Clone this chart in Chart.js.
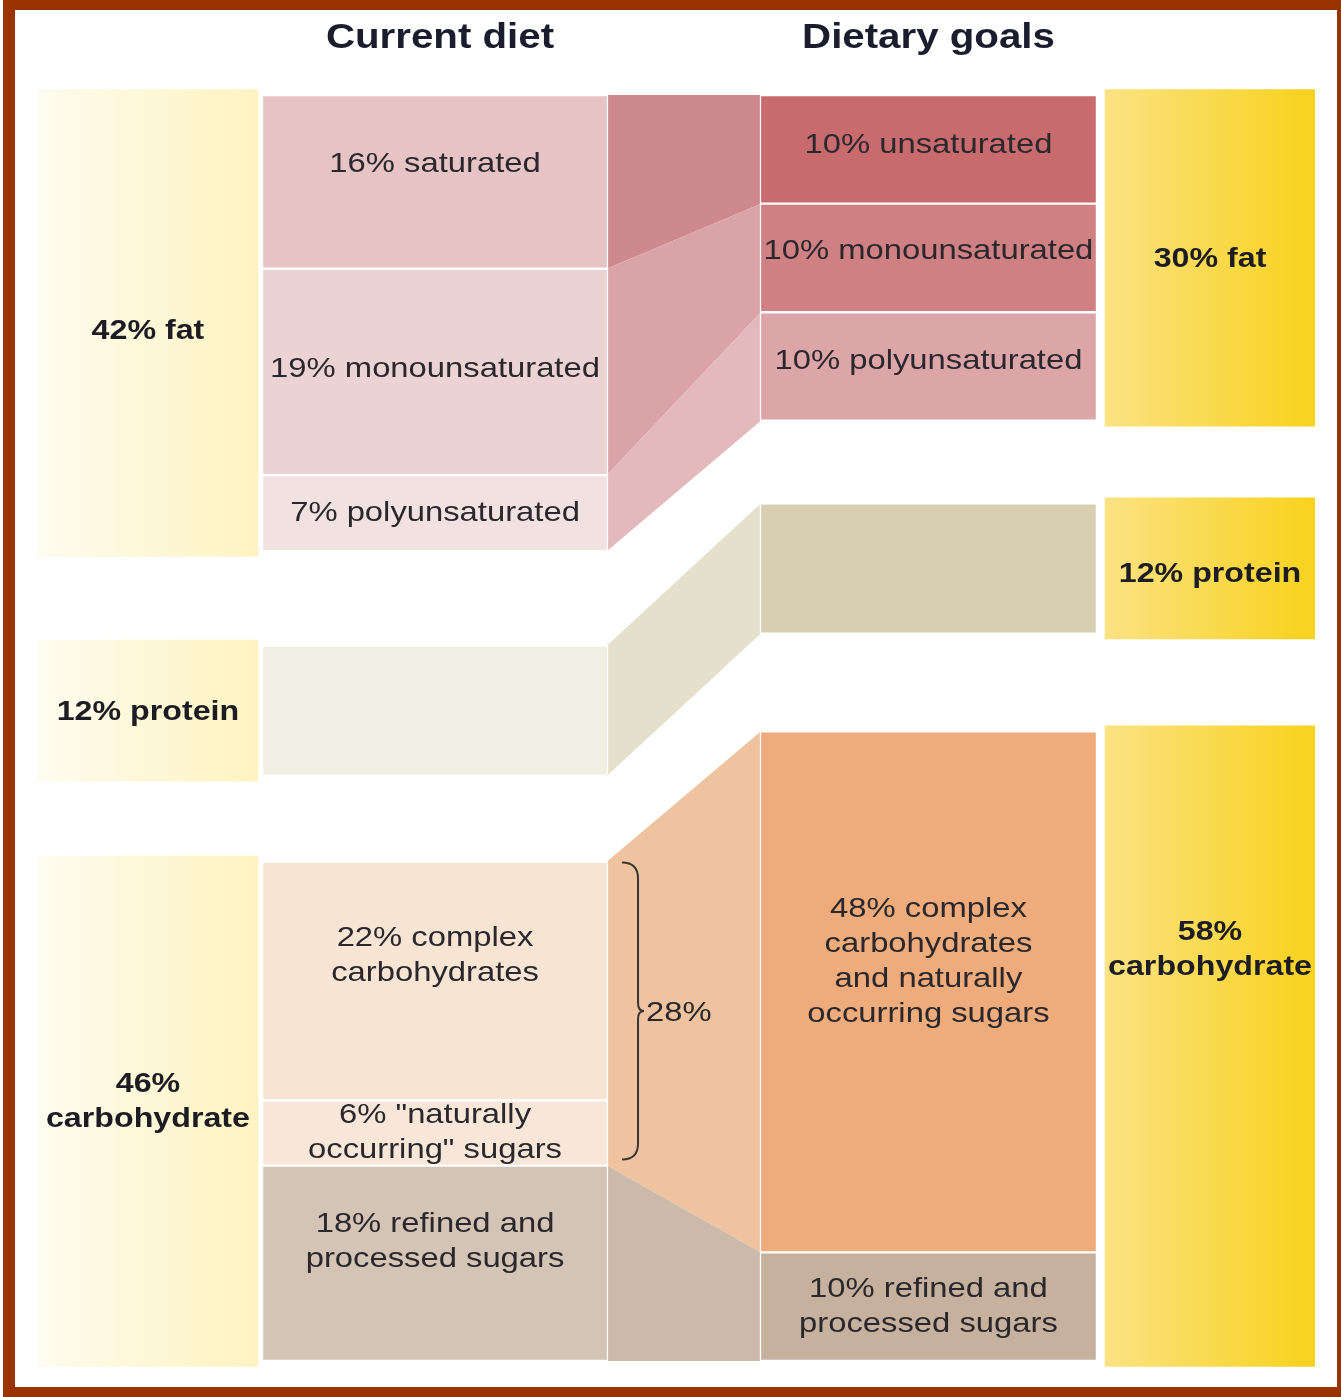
<!DOCTYPE html>
<html>
<head>
<meta charset="utf-8">
<script src="https://cdn.jsdelivr.net/npm/chart.js@4.4.1/dist/chart.umd.min.js"></script>
<style>
  html, body { margin:0; padding:0; background:#fff; }
  #wrap { position:relative; width:1341px; height:1397px; overflow:hidden; }
  #frame { position:absolute; left:3px; top:0; right:0; bottom:0; box-sizing:border-box;
    border:10px solid #9a3300; border-left-width:12px; border-right-width:4px; pointer-events:none; }
  canvas { position:absolute; left:0; top:0; }
</style>
</head>
<body>
<div id="wrap">
  <canvas id="diet" width="1341" height="1397"></canvas>
  <div id="frame"></div>
</div>
<script>
// ===== data =====
const columnTitles = ['Current diet', 'Dietary goals'];
const currentTotals = [42, 12, 46];          // fat, protein, carbohydrate
const goalTotals = [30, 12, 58];
const currentGroupLabels = ['42% fat', '12% protein', '46%\ncarbohydrate'];
const goalGroupLabels = ['30% fat', '12% protein', '58%\ncarbohydrate'];

const currentParts = [16, 19, 7, 12, 22, 6, 18];
const currentGroupOf = [0, 0, 0, 1, 2, 2, 2];
const currentLabels = ['16% saturated', '19% monounsaturated', '7% polyunsaturated', '',
  '22% complex\ncarbohydrates', '6% "naturally\noccurring" sugars', '18% refined and\nprocessed sugars'];

const goalParts = [10, 10, 10, 12, 48, 10];
const goalGroupOf = [0, 0, 0, 1, 2, 2];
const goalLabels = ['10% unsaturated', '10% monounsaturated', '10% polyunsaturated', '',
  '48% complex\ncarbohydrates\nand naturally\noccurring sugars', '10% refined and\nprocessed sugars'];

// which current parts flow into which goal part
const flowFrom = [[0], [1], [2], [3], [4, 5], [6]];
const flowTo = [0, 1, 2, 3, 4, 5];
const braceParts = [4, 5];
const braceLabel = '28%';

// ===== layout / style =====
const layout = {
  currentGaps: [8.7, 7.9], goalGaps: [7.6, 9.0], groupPad: 0.5,
  colX: { left: 8.61, current: 31.09, goals: 69.73, right: 91.78 },
  colW: { left: 220, current: 346, goals: 337, right: 210 },
  stretch: 1.15, lineH: 35,
  nudgeCurrent: [-18, -3, 0, 0, -25, 0, -22],
  nudgeGoals: [-4, -7, -5, 0, -30, 0],
  nudgeLeft: [8, 2, -10],
  nudgeRight: [1, 6, -96]
};
const colors = {
  current: ['#e6c4c5', '#ecd3d3', '#f2e1e1', '#efefe4', '#f7e4d3', '#f8e7d8', '#d4c4b6'],
  goals: ['#c86b6e', '#ce8083', '#dca6a9', '#d8cfb3', '#eeab7b', '#c6b19f'],
  flows: ['#cd898d', '#d9a3a7', '#e3b9bc', '#e5e0cc', '#efc3a0', '#cbb9a9'],
  leftCol: ['#fefcef', '#fef3c0'],
  rightCol: ['#fbe283', '#f8d21c'],
  text: '#2a282c', bold: '#1c1c22', title: '#1b1d2e'
};
const FONT = "'Liberation Sans', Arial, Helvetica, sans-serif";

function stackRanges(parts, groupOf, totals, gaps) {
  const groupStart = [0];
  for (let g = 1; g < totals.length; g++) groupStart.push(groupStart[g-1] + totals[g-1] + gaps[g-1]);
  const out = []; let prev = -1, pos = 0;
  parts.forEach((v, i) => {
    const g = groupOf[i];
    if (g !== prev) { pos = groupStart[g]; prev = g; }
    out.push([pos, pos + v]); pos += v;
  });
  return { groupStart, parts: out };
}
const cur = stackRanges(currentParts, currentGroupOf, currentTotals, layout.currentGaps);
const goal = stackRanges(goalParts, goalGroupOf, goalTotals, layout.goalGaps);

function hGrad(chart, col, stops) {
  const xs = chart.scales.x;
  if (!xs || !chart.chartArea) return stops[1];
  const cx = xs.getPixelForValue(layout.colX[col]), w = layout.colW[col];
  const g = chart.ctx.createLinearGradient(cx - w/2, 0, cx + w/2, 0);
  g.addColorStop(0, stops[0]); g.addColorStop(1, stops[1]);
  return g;
}

function drawText(ctx, text, x, y, font, color, align) {
  const lines = text.split('\n');
  ctx.save();
  ctx.font = font; ctx.fillStyle = color; ctx.textAlign = align || 'center'; ctx.textBaseline = 'middle';
  lines.forEach((ln, i) => {
    const dy = (i - (lines.length - 1) / 2) * layout.lineH;
    ctx.save(); ctx.translate(x, y + dy); ctx.scale(layout.stretch, 1); ctx.fillText(ln, 0, 0); ctx.restore();
  });
  ctx.restore();
}

const pad = layout.groupPad;
const groupBars = (col, totals, starts) => totals.map((t, g) => ({ x: layout.colX[col], y: [starts[g] - pad, starts[g] + t + pad] }));

// connectors between the two stacked columns
const flowPlugin = {
  id: 'flows',
  beforeDatasetsDraw(chart) {
    const ctx = chart.ctx;
    const cm = chart.getDatasetMeta(2).data, gm = chart.getDatasetMeta(3).data;
    const top = el => Math.min(el.y, el.base), bot = el => Math.max(el.y, el.base);
    flowTo.forEach((gi, f) => {
      const from = flowFrom[f].map(i => cm[i]);
      const x0 = from[0].x + from[0].width / 2;
      const y0a = Math.min(...from.map(top)), y0b = Math.max(...from.map(bot));
      const g = gm[gi];
      const x1 = g.x - g.width / 2;
      ctx.save();
      ctx.beginPath();
      ctx.moveTo(x0 - 1, y0a); ctx.lineTo(x1 + 1, top(g)); ctx.lineTo(x1 + 1, bot(g)); ctx.lineTo(x0 - 1, y0b);
      ctx.closePath();
      ctx.fillStyle = colors.flows[f];
      ctx.fill();
      ctx.restore();
    });
  },
  afterDatasetsDraw(chart) {
    const ctx = chart.ctx;
    const xs = chart.scales.x, area = chart.chartArea;
    // column titles
    drawText(ctx, columnTitles[0], xs.getPixelForValue(layout.colX.current) + 5, area.top - 50, 'bold 35px ' + FONT, colors.title);
    drawText(ctx, columnTitles[1], xs.getPixelForValue(layout.colX.goals), area.top - 50, 'bold 35px ' + FONT, colors.title);
    const mid = el => (el.y + el.base) / 2;
    const reg = '28.5px ' + FONT, bold = 'bold 28px ' + FONT;
    chart.getDatasetMeta(0).data.forEach((el, i) => drawText(ctx, currentGroupLabels[i], el.x, mid(el) + layout.nudgeLeft[i], bold, colors.bold));
    chart.getDatasetMeta(1).data.forEach((el, i) => drawText(ctx, goalGroupLabels[i], el.x, mid(el) + layout.nudgeRight[i], bold, colors.bold));
    chart.getDatasetMeta(2).data.forEach((el, i) => { if (currentLabels[i]) drawText(ctx, currentLabels[i], el.x, mid(el) + layout.nudgeCurrent[i], reg, colors.text); });
    chart.getDatasetMeta(3).data.forEach((el, i) => { if (goalLabels[i]) drawText(ctx, goalLabels[i], el.x, mid(el) + layout.nudgeGoals[i], reg, colors.text); });

    // brace over the parts that become the 48%
    const cm = chart.getDatasetMeta(2).data;
    const parts = braceParts.map(i => cm[i]);
    const bx = parts[0].x + parts[0].width / 2 + 14;
    const t = Math.min(...parts.map(e => Math.min(e.y, e.base))) + 1;
    const b = Math.max(...parts.map(e => Math.max(e.y, e.base))) - 6;
    const m = (t + b) / 2, r = 16;
    ctx.save();
    ctx.strokeStyle = '#3a3636'; ctx.lineWidth = 2;
    ctx.beginPath();
    ctx.moveTo(bx, t);
    ctx.quadraticCurveTo(bx + r, t, bx + r, t + 16);
    ctx.lineTo(bx + r, m - 8);
    ctx.quadraticCurveTo(bx + r, m, bx + r + 6, m);
    ctx.quadraticCurveTo(bx + r, m, bx + r, m + 8);
    ctx.lineTo(bx + r, b - 16);
    ctx.quadraticCurveTo(bx + r, b, bx, b);
    ctx.stroke();
    ctx.restore();
    drawText(ctx, braceLabel, bx + r + 8, m + 2, reg, colors.text, 'left');
  }
};

new Chart(document.getElementById('diet'), {
  type: 'bar',
  data: {
    datasets: [
      { data: groupBars('left', currentTotals, cur.groupStart), barThickness: layout.colW.left,
        backgroundColor: c => hGrad(c.chart, 'left', colors.leftCol), borderWidth: 0 },
      { data: groupBars('right', goalTotals, goal.groupStart), barThickness: layout.colW.right,
        backgroundColor: c => hGrad(c.chart, 'right', colors.rightCol), borderWidth: 0 },
      { data: cur.parts.map(r => ({ x: layout.colX.current, y: r })), barThickness: layout.colW.current,
        backgroundColor: colors.current, borderColor: '#ffffff', borderWidth: 1.5, borderSkipped: false },
      { data: goal.parts.map(r => ({ x: layout.colX.goals, y: r })), barThickness: layout.colW.goals,
        backgroundColor: colors.goals, borderColor: '#ffffff', borderWidth: 1.5, borderSkipped: false }
    ]
  },
  options: {
    responsive: false, animation: false, events: [],
    layout: { padding: { left: 38, right: 26, top: 88, bottom: 30 } },
    datasets: { bar: { grouped: false } },
    plugins: { legend: { display: false }, tooltip: { enabled: false } },
    scales: {
      x: { type: 'linear', min: 0, max: 100, display: false, offset: false },
      y: { type: 'linear', reverse: true, min: -0.65, max: 117.15, display: false }
    }
  },
  plugins: [flowPlugin]
});
</script>
</body>
</html>
